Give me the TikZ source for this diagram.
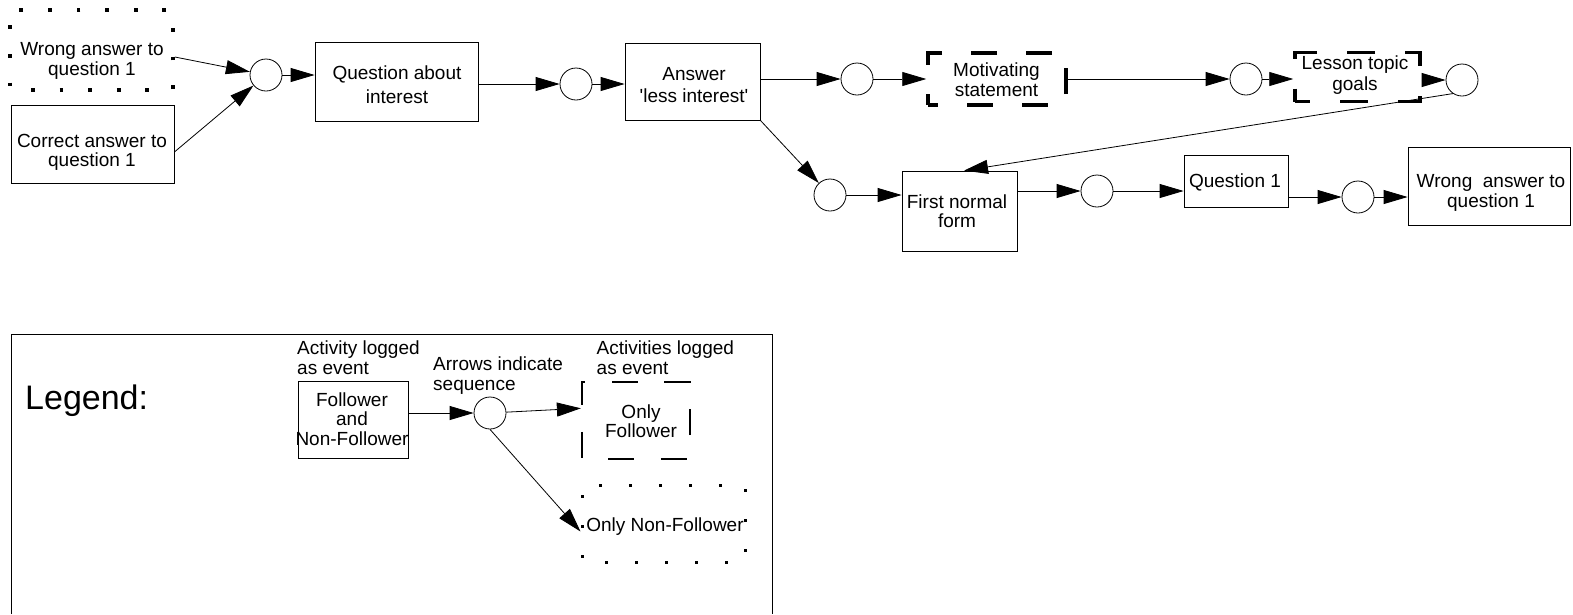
\documentclass[tikz,border=0pt]{standalone}
\usepackage{fontspec}
\setmainfont{Liberation Sans}[Ligatures=TeXOff]
\usetikzlibrary{arrows.meta}

\begin{document}
\begin{tikzpicture}[x=1pt, y=-1pt,
    font=\fontsize{19}{19.5}\selectfont,
    txt/.style={align=center, inner sep=0pt},
    act/.style={draw, line width=0.8pt, inner sep=0pt},
    actfol/.style={act, line width=3.5pt, dash pattern=on 26pt off 29pt, dash phase=16pt},
    actnon/.style={act, line width=3.8pt, dash pattern=on 3.8pt off 24.8pt, dash phase=7.6pt},
    seq/.style={draw, circle, line width=0.8pt, minimum size=32pt, inner sep=0pt},
    arr/.style={line width=0.8pt, -{Triangle[length=24pt, width=14pt]}}]
        \useasboundingbox (0,0) rectangle (1573,614);

        \node[actnon, minimum width=163pt, minimum height=80pt] (wrong1) at (91.5,50) {};
        \node[txt] (wrong1t) at (92,61) {Wrong answer to\\question 1};
        \node[act, minimum width=163pt, minimum height=78pt] (correct1) at (92.5,144) {};
        \node[txt] (correct1t) at (92,152.5) {Correct answer to\\question 1};
        \node[seq] (c1) at (266,75) {};
        \node[act, minimum width=163pt, minimum height=79pt] (qint) at (396.5,81.5) {};
        \node[txt] (qintt) at (397,84.5) {Question about\\[4pt]interest};
        \node[seq] (c2) at (576,84) {};
        \node[act, minimum width=135pt, minimum height=77pt] (ans) at (692.5,81.5) {};
        \node[txt] (anst) at (694,85) {Answer\\[2pt]'less interest'};
        \node[seq] (c3) at (857,79) {};
        \node[actfol, minimum width=138pt, minimum height=52pt] (motiv) at (997,79) {};
        \node[txt] (motivt) at (996.5,79.5) {Motivating\\statement};
        \node[seq] (c5) at (1246,79) {};
        \node[actfol, dash pattern=on 28pt off 30pt, dash phase=13pt, minimum width=125pt, minimum height=49pt] (lesson) at (1357.5,77) {};
        \node[txt] (lessont) at (1355,75) {Lesson topic\\[2pt]goals};
        \node[seq] (c6) at (1462,80) {};

        \node[seq] (c4) at (830,195) {};
        \node[act, minimum width=115pt, minimum height=80pt] (fnf) at (959.5,211) {};
        \node[txt] (fnft) at (957,211) {First normal\\form};
        \node[seq] (c7) at (1097,191) {};
        \node[act, minimum width=104pt, minimum height=52pt] (q1) at (1236,181) {};
        \node[txt] (q1t) at (1235,182) {Question 1};
        \node[seq] (c8) at (1358,197) {};
        \node[act, minimum width=162pt, minimum height=78pt] (wrong2) at (1489,186) {};
        \node[txt] (wrong2t) at (1491,193) {Wrong\ \ answer to\\question 1};

        \draw[arr] ([yshift=-7pt]wrong1.east) -- (c1);
        \draw[arr] ([yshift=-8pt]correct1.east) -- (c1);
        \draw[arr] (c1) -- (c1 -| qint.west);
        \draw[arr] (c2 -| qint.east) -- (c2);
        \draw[arr] (c2) -- (c2 -| ans.west);
        \draw[arr] (c3 -| ans.east) -- (c3);
        \draw[arr] (c3) -- (c3 -| motiv.west);
        \draw[arr] (c5 -| motiv.east) -- (c5);
        \draw[arr] (c5) -- (c5 -| lesson.west);
        \draw[arr] (c6 -| lesson.east) -- (c6);
        \draw[arr] (c6.236) -- ([xshift=4.5pt]fnf.north);
        \draw[arr] (ans.south east) -- (c4);
        \draw[arr] (c4) -- (c4 -| fnf.west);
        \draw[arr] (c7 -| fnf.east) -- (c7);
        \draw[arr] (c7) -- (c7 -| q1.west);
        \draw[arr] (c8 -| q1.east) -- (c8);
        \draw[arr] (c8) -- (c8 -| wrong2.west);

        \draw[line width=0.9pt] (11,614) -- (11,334) -- (772,334) -- (772,614);
        \node[txt, anchor=west, font=\fontsize{34}{40}\selectfont] (lgd) at (25,401) {Legend:};
        \node[txt, anchor=west, align=left] (capact) at (297,357.5) {Activity logged\\[0.5pt]as event};
        \node[txt, anchor=west, align=left] (capseq) at (433,376) {Arrows indicate\\[0.5pt]sequence};
        \node[txt, anchor=west, align=left] (capacts) at (596.5,357.5) {Activities logged\\[0.5pt]as event};
        \node[act, minimum width=110pt, minimum height=77pt] (fol) at (353,420.3) {};
        \node[txt] (folt) at (352,419) {Follower\\and\\Non-Follower};
        \node[seq] (cl) at (490,413) {};
        \node[act, line width=2.2pt, dash pattern=on 26pt off 26.86pt, dash phase=26.86pt, minimum width=108pt, minimum height=77pt] (onlyf) at (636,420.3) {};
        \node[txt] (onlyft) at (641,421) {Only\\Follower};
        \node[actnon, line width=3pt, dash pattern=on 3pt off 27pt, dash phase=7pt, minimum width=163pt, minimum height=77pt] (onlynf) at (663.5,523.5) {};
        \node[txt] (onlynft) at (665,527) {Only Non-Follower};

        \draw[arr] (cl -| fol.east) -- (cl);
        \draw[arr] (cl) -- ([yshift=12pt]onlyf.west);
        \draw[arr] (cl.south) -- ([yshift=-8pt]onlynf.west);
    \end{tikzpicture}
\end{document}
